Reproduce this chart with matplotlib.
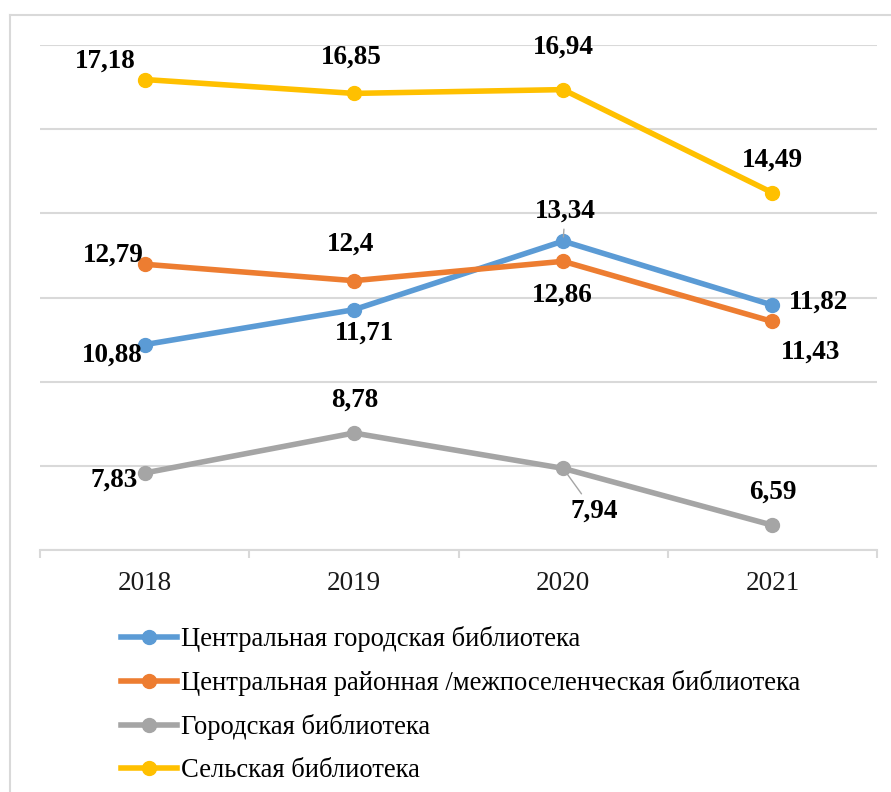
import numpy as np
import matplotlib.pyplot as plt
from matplotlib.lines import Line2D

plt.rcParams['font.family'] = ['Liberation Serif', 'DejaVu Serif']

years = ['2018', '2019', '2020', '2021']
central_city = [10.88, 11.71, 13.34, 11.82]
central_district = [12.79, 12.4, 12.86, 11.43]
city = [7.83, 8.78, 7.94, 6.59]
rural = [17.18, 16.85, 16.94, 14.49]

names = ['Центральная городская библиотека',
         'Центральная районная /межпоселенческая библиотека',
         'Городская библиотека',
         'Сельская библиотека']
colors = ['#5B9BD5', '#ED7D31', '#A5A5A5', '#FFC000']

# label offsets in pixels (dx, dy), y up
offsets = [
    [(-32, -11), (11, -23), (2, 30), (46, 3)],
    [(-31, 9), (-3, 36), (-1, -34), (38, -31)],
    [(-30, -7), (1, 33), (31, -43), (0, 33)],
    [(-39, 18), (-3, 36), (0, 42), (0, 33)],
]
leaders = [[False, False, True, False],
           [False] * 4,
           [False, False, True, False],
           [False] * 4]

fig = plt.figure(figsize=(8.91, 7.92), dpi=100)
ax = fig.add_axes([40 / 891, 1 - 550 / 792, 837 / 891, 505 / 792])

x = np.arange(len(years))
series = [central_city, central_district, city, rural]
for vals, name, col, offs, lead in zip(series, names, colors, offsets, leaders):
    ax.plot(x, vals, color=col, lw=4, marker='o', ms=10, label=name,
            solid_capstyle='round', zorder=3)
    for xi, v, (dx, dy), ld in zip(x, vals, offs, lead):
        txt = f'{v:g}'.replace('.', ',')
        kw = {}
        if ld:
            kw['arrowprops'] = dict(arrowstyle='-', color='#A5A5A5', lw=1,
                                    shrinkA=2, shrinkB=3)
        ax.annotate(txt, (xi, v), xytext=(dx * 0.72, dy * 0.72),
                    textcoords='offset points', ha='center', va='center',
                    fontsize=19.5, fontweight='bold', color='black', **kw)

ax.set_xlim(-0.5, 3.5)
ax.set_ylim(6, 18)
ax.set_yticks(np.arange(6, 19, 2))
ax.set_yticklabels([])
ax.tick_params(axis='y', length=0)
ax.grid(axis='y', color='#D9D9D9', lw=1.5, zorder=0)
ax.set_axisbelow(True)
for s in ['top', 'right', 'left']:
    ax.spines[s].set_visible(False)
ax.spines['bottom'].set_color('#D9D9D9')
ax.spines['bottom'].set_linewidth(1.5)
ax.set_xticks(x)
ax.set_xticklabels(years, fontsize=19.5, color='#1a1a1a')
ax.set_xticks(np.arange(-0.5, 4, 1), minor=True)
ax.tick_params(axis='x', which='major', length=0, pad=15)
ax.tick_params(axis='x', which='minor', length=6, width=1.5, color='#D9D9D9')

handles = [Line2D([], [], color=c, lw=4, marker='o', ms=10) for c in colors]
fig.legend(handles, names, loc='upper left', bbox_to_anchor=(121 / 891, 1 - 626 / 792),
           frameon=False, fontsize=19.2, handlelength=2.1, handletextpad=0.15,
           labelspacing=0.68, borderpad=0, borderaxespad=0)

# outer chart border (only top and left are visible in the crop)
fig.add_artist(Line2D([10 / 891, 1], [1 - 15 / 792, 1 - 15 / 792],
                      transform=fig.transFigure, color='#D9D9D9', lw=1.5))
fig.add_artist(Line2D([10 / 891, 10 / 891], [0, 1 - 15 / 792],
                      transform=fig.transFigure, color='#D9D9D9', lw=1.5))

fig.savefig('out.png', dpi=100)
